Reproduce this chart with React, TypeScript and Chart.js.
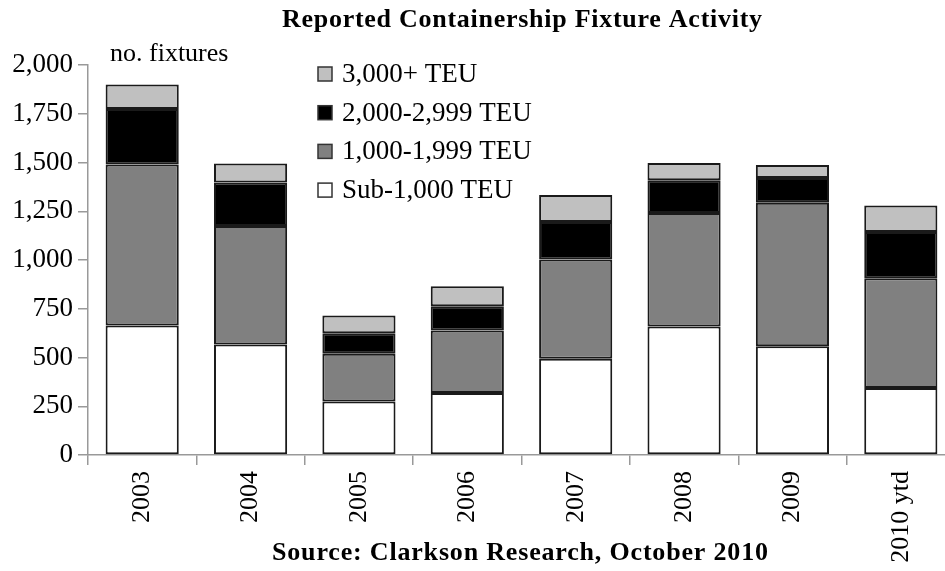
import React, { useEffect, useRef } from 'react';
import { Chart, registerables } from 'chart.js';

Chart.register(...registerables);

const categories = ['2003', '2004', '2005', '2006', '2007', '2008', '2009', '2010 ytd'];
const sub1000 = [664, 567, 275, 318, 493, 659, 558, 344];
const teu1000to1999 = [826, 607, 244, 321, 510, 582, 735, 563];
const teu2000to2999 = [284, 223, 106, 124, 192, 168, 128, 237];
const teu3000plus = [126, 98, 91, 102, 138, 88, 66, 136];
const seriesLabels = ['Sub-1,000 TEU', '1,000-1,999 TEU', '2,000-2,999 TEU', '3,000+ TEU'];
const seriesColors = ['#ffffff', '#808080', '#000000', '#c0c0c0'];

const titleText = 'Reported Containership Fixture Activity';
const unitText = 'no. fixtures';
const sourceText = 'Source: Clarkson Research, October 2010';

const SERIF = '"Liberation Serif", "Times New Roman", serif';

function drawFitted(ctx: CanvasRenderingContext2D, text: string, cx: number, cy: number, width: number, font: string) {
  ctx.save();
  ctx.font = font;
  (ctx as any).letterSpacing = '0px';
  const w = ctx.measureText(text).width;
  const ls = (width - w) / Math.max(1, text.length - 1);
  (ctx as any).letterSpacing = ls.toFixed(2) + 'px';
  ctx.textAlign = 'left';
  ctx.textBaseline = 'middle';
  ctx.fillStyle = '#000';
  ctx.fillText(text, cx - width / 2, cy);
  ctx.restore();
}

const decorPlugin = {
  id: 'decor',
  afterDraw(chart: any) {
    const ctx: CanvasRenderingContext2D = chart.ctx;
    const area = chart.chartArea;
    drawFitted(ctx, titleText, 522, 20, 480, `bold 26px ${SERIF}`);
    drawFitted(ctx, sourceText, 520, 553, 496, `bold 26px ${SERIF}`);

    ctx.save();
    ctx.font = `26px ${SERIF}`;
    ctx.fillStyle = '#000';
    ctx.textBaseline = 'middle';
    ctx.textAlign = 'left';
    ctx.fillText(unitText, area.left + 22, area.top - 11);

    // legend (reversed order), inside plot area
    const ds = chart.data.datasets.slice().reverse();
    const x0 = 318;
    const rowH = 38.7;
    const y0 = 74;
    ctx.font = `27px ${SERIF}`;
    ds.forEach((d: any, i: number) => {
      const cy = y0 + i * rowH;
      ctx.fillStyle = d.backgroundColor;
      ctx.fillRect(x0, cy - 7, 14, 14);
      ctx.strokeStyle = '#333';
      ctx.lineWidth = 1.5;
      ctx.strokeRect(x0, cy - 7, 14, 14);
      ctx.fillStyle = '#000';
      ctx.fillText(d.label, x0 + 24, cy + 1);
    });
    ctx.restore();
  },
};

export default function App() {
  const ref = useRef<HTMLCanvasElement | null>(null);
  useEffect(() => {
    if (!ref.current) return;
    const datasets = [sub1000, teu1000to1999, teu2000to2999, teu3000plus].map((data, i) => ({
      label: seriesLabels[i],
      data,
      backgroundColor: seriesColors[i],
      borderColor: '#1a1a1a',
      borderWidth: 2,
      borderSkipped: false as const,
      categoryPercentage: 1,
      barPercentage: 0.675,
    }));
    const chart = new Chart(ref.current, {
      type: 'bar',
      data: { labels: categories, datasets },
      plugins: [decorPlugin],
      options: {
        responsive: false,
        animation: false,
        devicePixelRatio: 1,
        layout: { padding: { top: 65, right: 5, left: 0, bottom: 0 } },
        plugins: {
          legend: { display: false },
          title: { display: false },
          tooltip: { enabled: false },
        },
        scales: {
          x: {
            stacked: true,
            afterFit: (s: any) => { s.height = 116; },
            border: { color: '#999', width: 1.5 },
            grid: { display: true, drawOnChartArea: false, drawTicks: true, tickLength: 10, color: '#999', offset: true, lineWidth: 1.5 },
            ticks: {
              color: '#000',
              font: { family: SERIF, size: 26 },
              minRotation: 90,
              maxRotation: 90,
              autoSkip: false,
              padding: 6,
            },
          },
          y: {
            stacked: true,
            min: 0,
            max: 2000,
            afterFit: (s: any) => { s.width = 88; },
            border: { color: '#999', width: 1.5 },
            grid: { display: true, drawOnChartArea: false, drawTicks: true, tickLength: 10, color: '#999', lineWidth: 1.5 },
            ticks: {
              stepSize: 250,
              color: '#000',
              font: { family: SERIF, size: 27 },
              padding: 5,
              callback: (v: any) => Number(v).toLocaleString('en-US'),
            },
          },
        },
      },
    });
    return () => chart.destroy();
  }, []);
  return (
    <div style={{ position: 'fixed', left: 0, top: 0, width: 945, height: 571, overflow: 'hidden', background: '#fff' }}>
      <canvas ref={ref} width={960} height={571} style={{ display: 'block', width: 960, height: 571 }} />
    </div>
  );
}
